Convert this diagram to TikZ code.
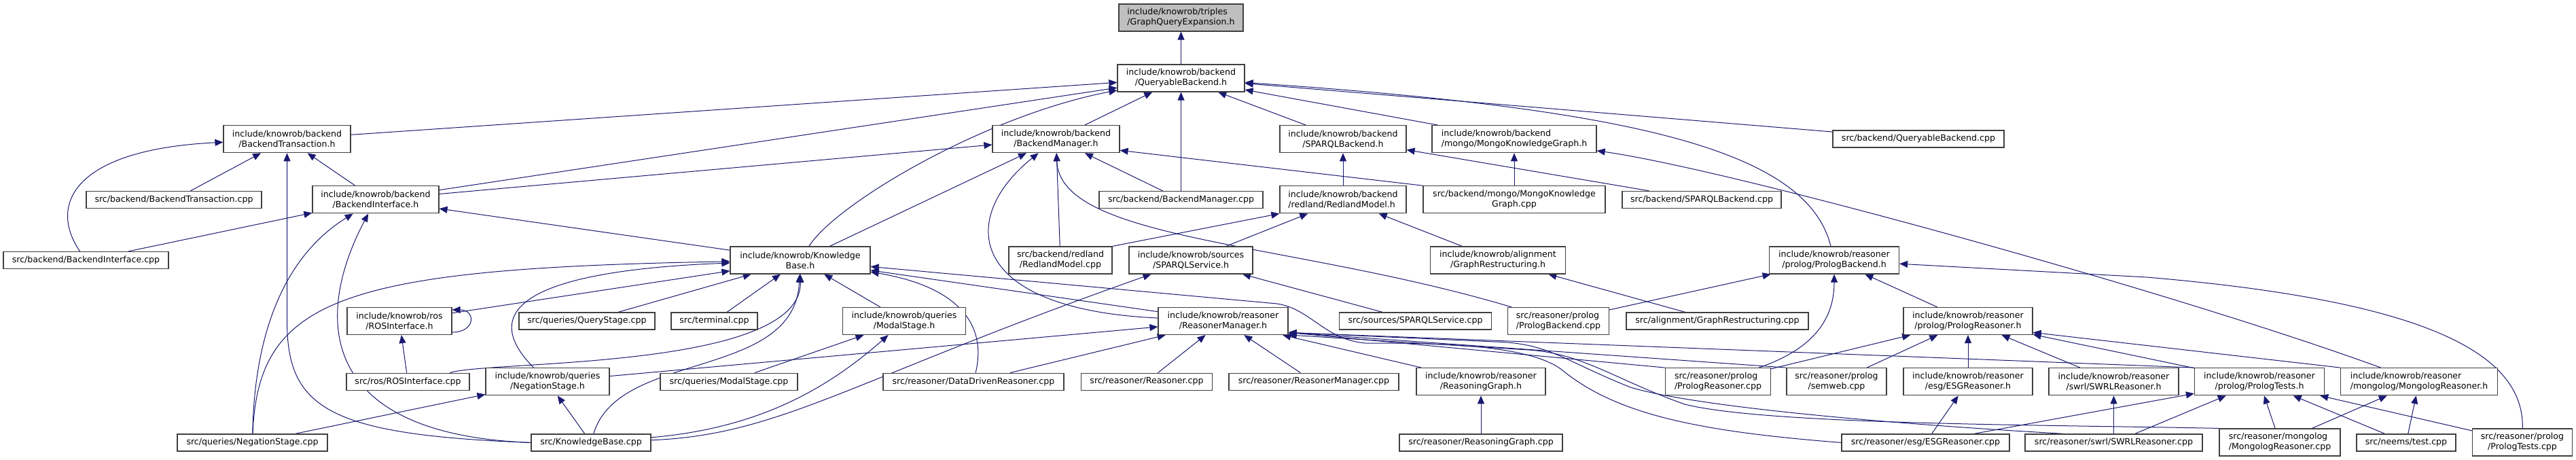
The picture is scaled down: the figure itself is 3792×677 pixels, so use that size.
\documentclass[tikz,border=0pt]{standalone}
\usepackage{fontspec}
\setmainfont{DejaVu Sans}
\usepackage{tikz}
\usetikzlibrary{arrows.meta, backgrounds}
\definecolor{azulnoche}{HTML}{191970}
\definecolor{grisborde}{HTML}{404040}
\definecolor{grisraiz}{HTML}{BFBFBF}
\colorlet{colFlecha}{azulnoche}
\colorlet{colBorde}{grisborde}
\tikzset{
  cajaArchivo/.style={
    draw=colBorde, line width=1.2pt, rectangle,
    minimum height=25pt, inner xsep=2pt, inner ysep=1pt,
    align=center, font=\fontsize{12.6pt}{15pt}\selectfont, text=black,
    fill=white
  },
  cajaDoble/.style={cajaArchivo, minimum height=40pt},
  cajaRaiz/.style={cajaDoble, fill=grisraiz},
  flecha/.style={-{Triangle[length=12pt,width=10pt]}, line width=1pt, colFlecha},
}

\begin{document}
\begin{tikzpicture}[x=1pt, y=-1pt]
    \useasboundingbox (0,0) rectangle (3792,677);
    \node[cajaRaiz, minimum width=183pt, align=left] (gqe) at (1738.5,26) {include/knowrob/triples\\/GraphQueryExpansion.h};
    \node[cajaDoble, minimum width=187pt] (qbh) at (1738.5,115) {include/knowrob/backend\\/QueryableBackend.h};
    \node[cajaDoble, minimum width=187pt] (bth) at (422.5,204.7) {include/knowrob/backend\\/BackendTransaction.h};
    \node[cajaDoble, minimum width=187pt] (bmh) at (1554.5,204.7) {include/knowrob/backend\\/BackendManager.h};
    \node[cajaDoble, minimum width=186pt] (sbh) at (1977,204.7) {include/knowrob/backend\\/SPARQLBackend.h};
    \node[cajaDoble, minimum width=242pt, align=left] (mkgh) at (2229,204.7) {include/knowrob/backend\\/mongo/MongoKnowledgeGraph.h};
    \node[cajaArchivo, minimum width=252pt] (qbc) at (2824,204.5) {src/backend/QueryableBackend.cpp};
    \node[cajaArchivo, minimum width=258pt] (btc) at (256,294) {src/backend/BackendTransaction.cpp};
    \node[cajaDoble, minimum width=186pt] (bih) at (553,293.8) {include/knowrob/backend\\/BackendInterface.h};
    \node[cajaArchivo, minimum width=241pt] (bmc) at (1738.5,294) {src/backend/BackendManager.cpp};
    \node[cajaDoble, minimum width=186pt, align=left] (rmdh) at (1977,293.8) {include/knowrob/backend\\/redland/RedlandModel.h};
    \node[cajaDoble, minimum width=268pt] (mkgc) at (2229,293.8) {src/backend/mongo/MongoKnowledge\\Graph.cpp};
    \node[cajaArchivo, minimum width=234pt] (sbc) at (2505,294) {src/backend/SPARQLBackend.cpp};
    \node[cajaArchivo, minimum width=243pt] (bic) at (126.5,383) {src/backend/BackendInterface.cpp};
    \node[cajaDoble, minimum width=206pt] (kbh) at (1178,383) {include/knowrob/Knowledge\\Base.h};
    \node[cajaDoble, minimum width=152pt] (rmdc) at (1561,383) {src/backend/redland\\/RedlandModel.cpp};
    \node[cajaDoble, minimum width=182pt] (ssh) at (1753,383) {include/knowrob/sources\\/SPARQLService.h};
    \node[cajaDoble, minimum width=199pt] (grh) at (2205,383) {include/knowrob/alignment\\/GraphRestructuring.h};
    \node[cajaDoble, minimum width=191pt] (pbh) at (2700,383) {include/knowrob/reasoner\\/prolog/PrologBackend.h};
    \node[cajaDoble, minimum width=154pt] (rosh) at (588,472.5) {include/knowrob/ros\\/ROSInterface.h};
    \node[cajaArchivo, minimum width=200pt] (qsc) at (864,472.5) {src/queries/QueryStage.cpp};
    \node[cajaArchivo, minimum width=127pt] (term) at (1051.5,472.5) {src/terminal.cpp};
    \node[cajaDoble, minimum width=181pt] (msh) at (1331,472.5) {include/knowrob/queries\\/ModalStage.h};
    \node[cajaDoble, minimum width=191pt] (rmh) at (1800.5,472.5) {include/knowrob/reasoner\\/ReasonerManager.h};
    \node[cajaArchivo, minimum width=224pt] (ssc) at (2083.6,472.5) {src/sources/SPARQLService.cpp};
    \node[cajaDoble, minimum width=149pt, align=left] (pbc) at (2294,472.5) {src/reasoner/prolog\\/PrologBackend.cpp};
    \node[cajaArchivo, minimum width=268pt] (grc) at (2528,472.5) {src/alignment/GraphRestructuring.cpp};
    \node[cajaDoble, minimum width=190pt] (prh) at (2897,472.5) {include/knowrob/reasoner\\/prolog/PrologReasoner.h};
    \node[cajaArchivo, minimum width=181pt] (rosc) at (600.5,561.7) {src/ros/ROSInterface.cpp};
    \node[cajaDoble, minimum width=182pt] (nsh) at (806,561.7) {include/knowrob/queries\\/NegationStage.h};
    \node[cajaArchivo, minimum width=202pt] (msc) at (1073,561.7) {src/queries/ModalStage.cpp};
    \node[cajaArchivo, minimum width=266pt] (ddrc) at (1433,561.7) {src/reasoner/DataDrivenReasoner.cpp};
    \node[cajaArchivo, minimum width=193pt] (rsc) at (1688,561.7) {src/reasoner/Reasoner.cpp};
    \node[cajaArchivo, minimum width=250pt] (rmc) at (1934,561.7) {src/reasoner/ReasonerManager.cpp};
    \node[cajaDoble, minimum width=190pt] (rgh) at (2180,561.7) {include/knowrob/reasoner\\/ReasoningGraph.h};
    \node[cajaDoble, minimum width=155pt, align=left] (prc) at (2529,561.7) {src/reasoner/prolog\\/PrologReasoner.cpp};
    \node[cajaDoble, minimum width=147pt] (swc) at (2703.5,561.7) {src/reasoner/prolog\\/semweb.cpp};
    \node[cajaDoble, minimum width=190pt] (esgh) at (2897,561.7) {include/knowrob/reasoner\\/esg/ESGReasoner.h};
    \node[cajaDoble, minimum width=191pt] (swrlh) at (3111.5,561.7) {include/knowrob/reasoner\\/swrl/SWRLReasoner.h};
    \node[cajaDoble, minimum width=191pt] (pth) at (3326,561.7) {include/knowrob/reasoner\\/prolog/PrologTests.h};
    \node[cajaDoble, minimum width=231pt, align=left] (mlh) at (3561,561.7) {include/knowrob/reasoner\\/mongolog/MongologReasoner.h};
    \node[cajaArchivo, minimum width=221pt] (nsc) at (371.5,651.4) {src/queries/NegationStage.cpp};
    \node[cajaArchivo, minimum width=176pt] (kbc) at (870,651.4) {src/KnowledgeBase.cpp};
    \node[cajaArchivo, minimum width=240pt] (rgc) at (2180,651.4) {src/reasoner/ReasoningGraph.cpp};
    \node[cajaArchivo, minimum width=247pt] (esgc) at (2834.5,651.4) {src/reasoner/esg/ESGReasoner.cpp};
    \node[cajaArchivo, minimum width=261pt] (swrlc) at (3111.5,651.4) {src/reasoner/swrl/SWRLReasoner.cpp};
    \node[cajaDoble, minimum width=178pt, align=left] (mlc) at (3356,651) {src/reasoner/mongolog\\/MongologReasoner.cpp};
    \node[cajaArchivo, minimum width=146pt] (ntc) at (3542,651.4) {src/neems/test.cpp};
    \node[cajaDoble, minimum width=147pt] (ptc) at (3713,651) {src/reasoner/prolog\\/PrologTests.cpp};
    \begin{scope}[on background layer]
    \draw[flecha] (qbh) -- (gqe);
    \draw[flecha] (bth) -- (qbh);
    \draw[flecha] (bih) -- (qbh);
    \draw[flecha] (kbh) .. controls (1230,300) and (1450,170) .. (qbh);
    \draw[flecha] (bmh) -- (qbh);
    \draw[flecha] (bmc) -- (qbh);
    \draw[flecha] (sbh) -- (qbh);
    \draw[flecha] (mkgh) -- (qbh);
    \draw[flecha] (qbc) -- (qbh);
    \draw[flecha] (pbh) .. controls (2660,220) and (2400,160) .. (qbh);
    \draw[flecha] (bic) .. controls (70,300) and (110,220) .. (bth);
    \draw[flecha] (btc) -- (bth);
    \draw[flecha] (kbc.west) .. controls (480,640) and (422,600) .. (422.5,470) -- (bth);
    \draw[flecha] (bih) -- (bth);
    \draw[flecha] (bih) -- (bmh);
    \draw[flecha] (kbh) -- (bmh);
    \draw[flecha] (bmc) -- (bmh);
    \draw[flecha] (rmh) .. controls (1420,455) and (1410,320) .. (bmh);
    \draw[flecha] (rmdc) -- (bmh);
    \draw[flecha] (mkgc.north west) -- (bmh.-10);
    \draw[flecha] (pbc) .. controls (1900,355) and (1560,355) .. (bmh);
    \draw[flecha] (bic) -- (bih);
    \draw[flecha] (nsc) .. controls (375,470) and (430,370) .. (bih);
    \draw[flecha] (kbc.west) .. controls (470,640) and (460,470) .. (bih);
    \draw[flecha] (kbh) -- (bih);
    \draw[flecha] (rmdh) -- (sbh);
    \draw[flecha] (sbc) -- (sbh);
    \draw[flecha] (mkgc) -- (mkgh);
    \draw[flecha] (mlh) .. controls (3200,430) and (2550,250) .. (mkgh);
    \draw[flecha] (rmdc.north east) -- (rmdh.south west);
    \draw[flecha] (ssh) -- (rmdh);
    \draw[flecha] (grh) -- (rmdh);
    \draw[flecha] (nsc) .. controls (380,440) and (500,395) .. (kbh);
    \draw[flecha] (nsh) .. controls (715,470) and (740,400) .. (kbh);
    \draw[flecha] (rosh) -- (kbh);
    \draw[flecha] (qsc) -- (kbh);
    \draw[flecha] (term) -- (kbh);
    \draw[flecha] (msh) -- (kbh);
    \draw[flecha] (rmh) -- (kbh);
    \draw[flecha] (ddrc) .. controls (1455,470) and (1400,420) .. (kbh);
    \draw[flecha] (kbc) .. controls (910,515) and (1170,560) .. (kbh);
    \draw[flecha] (rosc.12) .. controls (720,530) and (1180,545) .. (kbh);
    \draw[flecha] (esgc.west) .. controls (2500,635) and (2380,610) .. (2300,545) .. controls (2250,505) and (2100,505) .. (2010,505) .. controls (1950,500) and (1930,455) .. (1880,447) -- (kbh);
    \draw[flecha] (kbc) .. controls (1150,640) and (1250,560) .. (ssh);
    \draw[flecha] (ssc) -- (ssh);
    \draw[flecha] (grc) -- (grh);
    \draw[flecha] (pbc) -- (pbh);
    \draw[flecha] (prc) .. controls (2680,510) and (2700,460) .. (pbh);
    \draw[flecha] (prh) -- (pbh);
    \draw[flecha] (ptc) .. controls (3715,530) and (3600,445) .. (3160,408) -- (pbh);
    \draw[flecha] (rosh.-12) .. controls +(35,0) and +(35,0) .. (rosh.12);
    \draw[flecha] (rosc) -- (rosh);
    \draw[flecha] (msc) -- (msh);
    \draw[flecha] (kbc) .. controls (1120,630) and (1220,570) .. (msh);
    \draw[flecha] (nsh) -- (rmh);
    \draw[flecha] (ddrc) -- (rmh);
    \draw[flecha] (rsc) -- (rmh);
    \draw[flecha] (rmc) -- (rmh);
    \draw[flecha] (rgh) -- (rmh);
    \draw[flecha] (prc.north west) -- (rmh.-10);
    \draw[flecha] (swc.north west) -- (rmh.-10);
    \draw[flecha] (pth.north west) -- (rmh.-10);
    \draw[flecha] (swrlc.170) .. controls (2800,625) and (2500,600) .. (2400,570) .. controls (2300,530) and (2280,505) .. (2200,503) -- (rmh.-10);
    \draw[flecha] (mlc.north west) .. controls (3000,625) and (2600,625) .. (2480,595) .. controls (2380,560) and (2330,520) .. (2250,515) -- (rmh.-12);
    \draw[flecha] (prc) -- (prh);
    \draw[flecha] (swc) -- (prh);
    \draw[flecha] (esgh) -- (prh);
    \draw[flecha] (swrlh) -- (prh);
    \draw[flecha] (mlh.north west) -- (prh.-10);
    \draw[flecha] (pth) -- (prh);
    \draw[flecha] (nsc) -- (nsh);
    \draw[flecha] (kbc) -- (nsh);
    \draw[flecha] (rgc) -- (rgh);
    \draw[flecha] (esgc) -- (esgh);
    \draw[flecha] (swrlc) -- (swrlh);
    \draw[flecha] (esgc) -- (pth);
    \draw[flecha] (swrlc) -- (pth);
    \draw[flecha] (mlc) -- (pth);
    \draw[flecha] (ntc) -- (pth);
    \draw[flecha] (ptc) -- (pth);
    \draw[flecha] (mlc) -- (mlh);
    \draw[flecha] (ntc) -- (mlh);
    \end{scope}
  \end{tikzpicture}
\end{document}
